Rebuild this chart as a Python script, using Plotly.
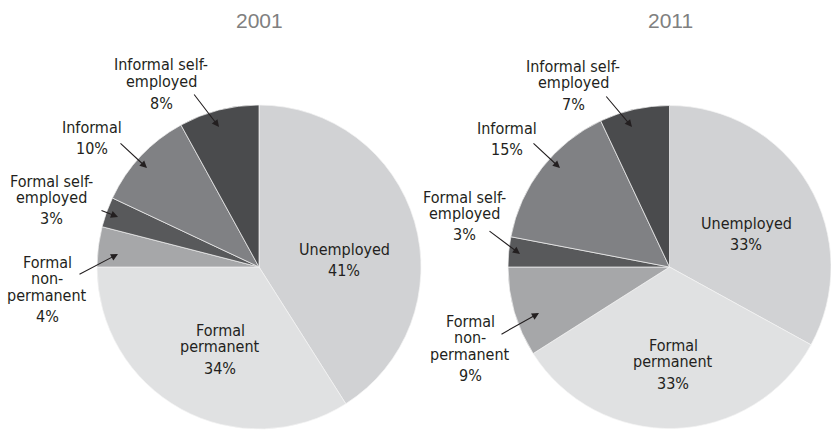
import plotly.graph_objects as go

# ---------------- data ----------------
categories = ["Unemployed", "Formal permanent", "Formal non-permanent",
              "Formal self-employed", "Informal", "Informal self-employed"]
years = ["2001", "2011"]
shares_2001 = [41, 34, 4, 3, 10, 8]
shares_2011 = [33, 33, 9, 3, 15, 7]

# how each category name is wrapped on the chart
label_lines = {
    "Unemployed": ["Unemployed"],
    "Formal permanent": ["Formal", "permanent"],
    "Formal non-permanent": ["Formal", "non-", "permanent"],
    "Formal self-employed": ["Formal self-", "employed"],
    "Informal": ["Informal"],
    "Informal self-employed": ["Informal self-", "employed"],
}

# ---------------- styles / layout ----------------
W, H = 831, 431
colors = ["#d1d2d4", "#e0e1e2", "#a6a7a9", "#58595b", "#808184", "#4a4b4d"]
TEXT = "#231f20"
LABEL_FONT = "DejaVu Sans Condensed, Roboto, Liberation Sans, sans-serif"
LABEL_SIZE = 16
LINE_STEP = 16.5
PCT_GAP = 21.5

# pie placement in pixels: (x0, x1, y0_top, y1_bottom)
pie_boxes = [(97, 421, 105, 429), (508, 831, 105.5, 428.5)]
title_pos = [(259, 20), (670, 20)]

# label anchor (center x, first line y) in pixels, per category
label_pos = [
    [(344, 249), (220, 330), (47, 262), (51, 181), (92, 127), (161, 65)],
    [(746, 223), (673, 345), (470, 321), (465, 197), (507, 128), (573, 66)],
]
# arrows: (tail, head) in pixels, per category (None = no arrow)
arrows = [
    [None, None, ((78, 275), (118, 254)), ((100, 210), (118, 217)),
     ((119, 142), (147, 168)), ((193, 93), (219, 127))],
    [None, None, ((500, 335), (539, 313)), ((488, 230), (520, 254)),
     ((532, 142), (560, 168)), ((605, 95), (632, 127))],
]


def px(x):
    return x / W


def py(y):
    return 1 - y / H


fig = go.Figure()
annotations = []
for i, (year, shares) in enumerate(zip(years, [shares_2001, shares_2011])):
    x0, x1, yt, yb = pie_boxes[i]
    fig.add_trace(go.Pie(
        labels=categories, values=shares, sort=False, direction="clockwise",
        rotation=0, textinfo="none", hoverinfo="label+percent",
        marker=dict(colors=colors, line=dict(color="#f4f4f4", width=0.7)),
        domain=dict(x=[px(x0), px(x1)], y=[py(yb), py(yt)]),
        showlegend=False, name=year,
    ))
    tx, ty = title_pos[i]
    annotations.append(dict(
        x=px(tx), y=py(ty), xref="paper", yref="paper", text=year,
        showarrow=False, xanchor="center", yanchor="middle",
        font=dict(family="Liberation Sans, Arial, sans-serif", size=21, color="#808080"),
    ))
    for j, cat in enumerate(categories):
        cx, cy = label_pos[i][j]
        lines = label_lines[cat]
        yy = cy
        for k, ln in enumerate(lines):
            yy = cy + k * LINE_STEP
            annotations.append(dict(
                x=px(cx), y=py(yy), xref="paper", yref="paper", text=ln,
                showarrow=False, xanchor="center", yanchor="middle",
                font=dict(family=LABEL_FONT, size=LABEL_SIZE, color=TEXT),
            ))
        annotations.append(dict(
            x=px(cx), y=py(yy + PCT_GAP), xref="paper", yref="paper",
            text=f"{shares[j]}%", showarrow=False, xanchor="center", yanchor="middle",
            font=dict(family=LABEL_FONT, size=LABEL_SIZE, color=TEXT),
        ))
        arr = arrows[i][j]
        if arr is not None:
            (tx0, ty0), (hx, hy) = arr
            annotations.append(dict(
                x=px(hx), y=py(hy), xref="paper", yref="paper", text="",
                showarrow=True, ax=tx0 - hx, ay=ty0 - hy, axref="pixel", ayref="pixel",
                arrowhead=2, arrowsize=1.3, arrowwidth=1.1, arrowcolor=TEXT,
                standoff=0, startstandoff=0,
            ))

fig.update_layout(
    width=W, height=H, margin=dict(l=0, r=0, t=0, b=0),
    paper_bgcolor="white", plot_bgcolor="white",
    annotations=annotations,
)

fig.write_html("out.html")
